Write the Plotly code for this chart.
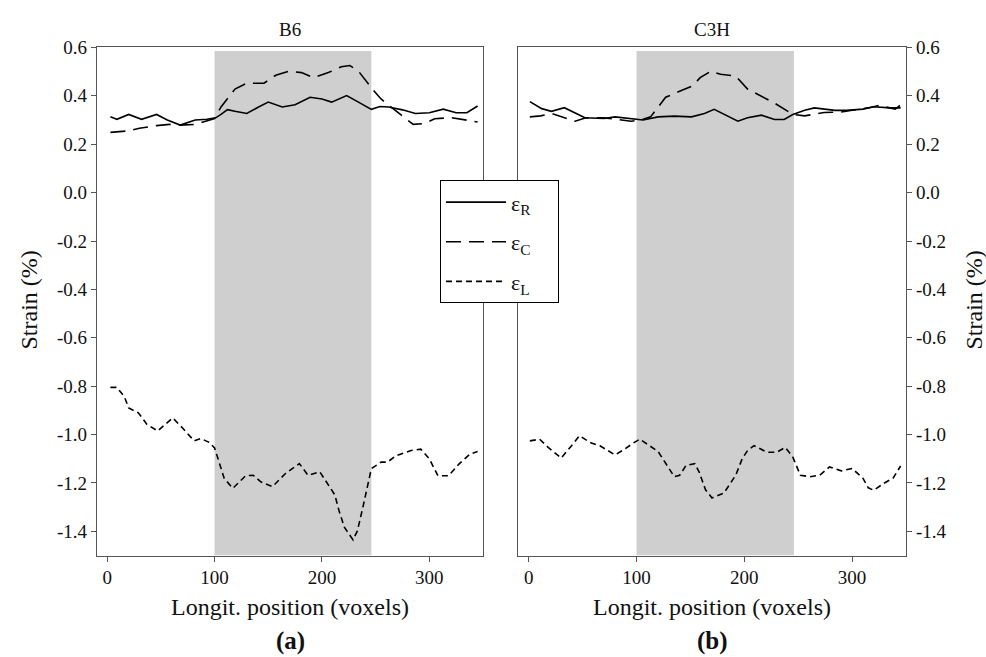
import plotly.graph_objects as go

# ---- data: strain profiles along the bone (Longit. position in voxels) ----
# B6
b6_r_x = [3, 9, 20, 32, 46, 56, 68, 82, 93, 101, 106, 112, 119, 130, 141, 150, 163, 175, 189, 200,
          209, 223, 234, 246, 254, 262, 275, 287, 300, 313, 325, 335, 345]
b6_r_y = [0.313, 0.303, 0.323, 0.303, 0.323, 0.300, 0.279, 0.300, 0.303, 0.309, 0.323, 0.343, 0.336,
          0.327, 0.354, 0.374, 0.354, 0.363, 0.394, 0.387, 0.374, 0.401, 0.374, 0.344, 0.356, 0.354,
          0.342, 0.327, 0.330, 0.345, 0.330, 0.330, 0.358]

b6_c_x = [3, 20, 30, 46, 58, 68, 82, 91, 100, 106, 119, 130, 146, 157, 169, 181, 192, 206, 218, 226,
          234, 247, 255, 274, 285, 295, 305, 320, 335, 345]
b6_c_y = [0.249, 0.255, 0.266, 0.277, 0.282, 0.279, 0.282, 0.293, 0.306, 0.354, 0.428, 0.452, 0.452,
          0.485, 0.501, 0.496, 0.475, 0.496, 0.520, 0.525, 0.502, 0.428, 0.387, 0.320, 0.282, 0.285,
          0.305, 0.310, 0.300, 0.292]

b6_l_x = [3, 9, 16, 20, 29, 37, 47, 61, 70, 81, 87, 95, 100, 109, 117, 129, 136, 143, 154, 166, 179,
          187, 198, 205, 212, 216, 221, 229, 233, 238, 243, 246, 255, 261, 269, 283, 292, 300, 308,
          318, 328, 338, 345]
b6_l_y = [-0.805, -0.805, -0.843, -0.890, -0.910, -0.958, -0.985, -0.931, -0.972, -1.026, -1.016,
          -1.032, -1.055, -1.181, -1.222, -1.170, -1.168, -1.195, -1.215, -1.161, -1.120, -1.168,
          -1.154, -1.202, -1.249, -1.316, -1.384, -1.435, -1.398, -1.303, -1.195, -1.141, -1.114,
          -1.114, -1.087, -1.066, -1.060, -1.100, -1.170, -1.170, -1.120, -1.080, -1.070]

# C3H
c3h_r_x = [1, 12, 21, 33, 52, 70, 80, 92, 106, 120, 135, 151, 163, 172, 185, 194, 203, 216, 228, 237,
           245, 256, 265, 273, 284, 295, 310, 320, 335, 345]
c3h_r_y = [0.376, 0.347, 0.336, 0.351, 0.309, 0.306, 0.313, 0.306, 0.300, 0.313, 0.316, 0.313, 0.327,
           0.344, 0.317, 0.295, 0.309, 0.320, 0.302, 0.302, 0.323, 0.340, 0.350, 0.347, 0.340, 0.340,
           0.345, 0.355, 0.350, 0.350]

c3h_c_x = [1, 11, 21, 30, 43, 53, 70, 95, 104, 113, 119, 127, 141, 152, 159, 169, 178, 192, 203, 217,
           229, 245, 256, 274, 290, 300, 315, 325, 340, 345]
c3h_c_y = [0.313, 0.317, 0.327, 0.313, 0.295, 0.309, 0.309, 0.295, 0.300, 0.313, 0.347, 0.394, 0.421,
           0.441, 0.475, 0.502, 0.489, 0.482, 0.428, 0.394, 0.367, 0.323, 0.317, 0.331, 0.333, 0.340,
           0.350, 0.360, 0.345, 0.362]

c3h_l_x = [1, 10, 18, 30, 41, 47, 58, 66, 80, 89, 98, 103, 120, 129, 135, 140, 146, 154, 158, 164,
           170, 181, 192, 198, 203, 209, 221, 230, 238, 245, 252, 261, 270, 279, 290, 300, 310, 315,
           320, 330, 338, 345]
c3h_l_y = [-1.026, -1.019, -1.053, -1.097, -1.039, -1.005, -1.035, -1.046, -1.084, -1.060, -1.032,
           -1.019, -1.070, -1.134, -1.174, -1.168, -1.127, -1.120, -1.154, -1.228, -1.262, -1.242,
           -1.168, -1.100, -1.066, -1.046, -1.073, -1.073, -1.053, -1.093, -1.168, -1.174, -1.168,
           -1.134, -1.150, -1.140, -1.180, -1.220, -1.230, -1.200, -1.180, -1.130]

# shaded region of interest
band_x0, band_x1 = 100, 246
band_y0, band_y1 = -1.5, 0.585

y_ticks = [0.6, 0.4, 0.2, 0.0, -0.2, -0.4, -0.6, -0.8, -1.0, -1.2, -1.4]
y_tick_text = ["%.1f" % v for v in y_ticks]
x_ticks = [0, 100, 200, 300]
x_tick_text = ["0", "100", "200", "300"]

panel_titles = ["B6", "C3H"]
panel_tags = ["(a)", "(b)"]
series_names = ["ε<sub>R</sub>", "ε<sub>C</sub>", "ε<sub>L</sub>"]
dashes = ["solid", "15px,8px", "6px,4px"]

W, H = 986, 657
SERIF = "Liberation Serif"
AX = "#555555"
INK = "#111111"


def px(x):
    return x / W


def py(y):
    return 1 - y / H


fig = go.Figure()

panels = [
    (b6_r_x, b6_r_y, b6_c_x, b6_c_y, b6_l_x, b6_l_y),
    (c3h_r_x, c3h_r_y, c3h_c_x, c3h_c_y, c3h_l_x, c3h_l_y),
]
for p, data in enumerate(panels):
    xa = "x" if p == 0 else "x2"
    ya = "y" if p == 0 else "y2"
    for s in range(3):
        fig.add_trace(go.Scatter(
            x=data[2 * s], y=data[2 * s + 1], mode="lines",
            name=series_names[s] + "\u00a0\u00a0\u00a0\u00a0", legendgroup=series_names[s],
            showlegend=(p == 0),
            line=dict(color="black", width=1.6, dash=dashes[s]),
            xaxis=xa, yaxis=ya,
        ))
    fig.add_shape(type="rect", xref=xa, yref=ya, x0=band_x0, x1=band_x1,
                  y0=band_y0, y1=band_y1, fillcolor="#cfcfcf",
                  line=dict(width=0), layer="below")

x_dom = [[px(97), px(483)], [px(518), px(906)]]
y_dom = [py(554), py(38)]

common_x = dict(range=[-9.5, 350], tickvals=x_ticks, ticktext=x_tick_text,
                ticks="outside", ticklen=5, tickcolor=AX, showline=True, linecolor=AX,
                linewidth=1.2, mirror=True, showgrid=False, zeroline=False,
                tickfont=dict(family=SERIF, size=19, color=INK))
common_y = dict(range=[-1.5, 0.6], tickvals=y_ticks, ticktext=y_tick_text,
                ticks="outside", ticklen=5, tickcolor=AX, showline=True, linecolor=AX,
                linewidth=1.2, mirror=True, showgrid=False, zeroline=False,
                tickfont=dict(family=SERIF, size=19, color=INK))

fig.update_layout(
    width=W, height=H,
    margin=dict(l=0, r=0, t=0, b=0),
    paper_bgcolor="white", plot_bgcolor="white",
    font=dict(family=SERIF, color=INK),
    xaxis=dict(domain=x_dom[0], anchor="y", **common_x),
    yaxis=dict(domain=y_dom, anchor="x", side="left", **common_y),
    xaxis2=dict(domain=x_dom[1], anchor="y2", **{**common_x, "range": [-10, 350]}),
    yaxis2=dict(domain=y_dom, anchor="x2", side="right", **common_y),
    legend=dict(
        x=px(440), y=py(173), xanchor="left", yanchor="top",
        bgcolor="white", bordercolor="black", borderwidth=1,
        font=dict(family=SERIF, size=22, color=INK),
        itemwidth=60, tracegroupgap=8,
    ),
    showlegend=True,
)

ann = []
centers = [(97 + 483) / 2, (518 + 906) / 2]


def label(text, x, y, size, angle=0):
    return dict(text=text, x=px(x), y=py(y), xref="paper", yref="paper",
                xanchor="center", yanchor="middle", showarrow=False, textangle=angle,
                font=dict(family=SERIF, size=size, color=INK))


for p in range(2):
    ann.append(label(panel_titles[p], centers[p], 20, 19))
    ann.append(label("Longit. position (voxels)", centers[p], 606, 24))
    ann.append(label("<b>%s</b>" % panel_tags[p], centers[p], 641, 25))
ann.append(label("Strain (%)", 29, 295, 24, -90))
ann.append(label("Strain (%)", 974, 295, 24, -90))
fig.update_layout(annotations=ann)

fig.write_html("out.html")
